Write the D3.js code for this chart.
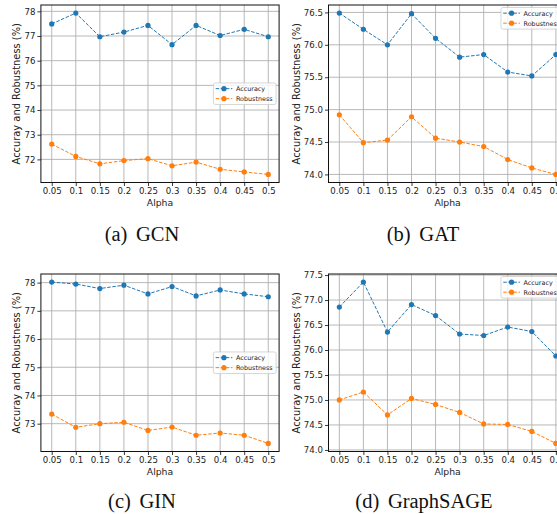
<!DOCTYPE html>
<html>
<head>
<meta charset="utf-8">
<script src="https://cdn.jsdelivr.net/npm/d3@7"></script>
<style>
  html, body { margin: 0; padding: 0; background: #fff; }
  svg { display: block; }
  .tick text { font-family: 'DejaVu Sans', sans-serif; font-size: 8.6px; fill: #222; }
  .tick line { stroke: #222; stroke-width: 0.9; }
</style>
</head>
<body>
<div id="chart"></div>
<script>
// data
const alphas = [0.05, 0.1, 0.15, 0.2, 0.25, 0.3, 0.35, 0.4, 0.45, 0.5];
const alphaLabels = ['0.05', '0.1', '0.15', '0.2', '0.25', '0.3', '0.35', '0.4', '0.45', '0.5'];

const gcnAcc  = [77.49, 77.93, 76.97, 77.16, 77.43, 76.65, 77.43, 77.02, 77.27, 76.97];
const gcnRob  = [72.62, 72.12, 71.82, 71.95, 72.03, 71.74, 71.89, 71.60, 71.49, 71.39];
const gatAcc  = [76.49, 76.24, 76.00, 76.48, 76.10, 75.81, 75.85, 75.58, 75.52, 75.85];
const gatRob  = [74.92, 74.49, 74.53, 74.89, 74.56, 74.50, 74.43, 74.23, 74.10, 74.00];
const ginAcc  = [78.02, 77.95, 77.79, 77.91, 77.60, 77.86, 77.53, 77.74, 77.60, 77.50];
const ginRob  = [73.34, 72.87, 73.00, 73.05, 72.76, 72.88, 72.59, 72.67, 72.59, 72.30];
const sageAcc = [76.86, 77.36, 76.36, 76.91, 76.69, 76.32, 76.29, 76.46, 76.37, 75.88];
const sageRob = [75.00, 75.16, 74.70, 75.03, 74.91, 74.75, 74.52, 74.51, 74.37, 74.13];

const gcnTicks  = [72, 73, 74, 75, 76, 77, 78];
const gatTicks  = [74.0, 74.5, 75.0, 75.5, 76.0, 76.5];
const ginTicks  = [73, 74, 75, 76, 77, 78];
const sageTicks = [74.0, 74.5, 75.0, 75.5, 76.0, 76.5, 77.0, 77.5];

const seriesNames = ['Accuracy', 'Robustness'];
const captionTags = ['(a)', '(b)', '(c)', '(d)'];
const modelNames  = ['GCN', 'GAT', 'GIN', 'GraphSAGE'];

// layout
const W = 557, H = 514;
const colors = ['#1f77b4', '#ff7f0e'];
const AW = 238.2, AH = 177.5;
const panels = [
  { x: 40.9,  y: 5,     acc: gcnAcc,  rob: gcnRob,  ticks: gcnTicks,  fmt: d3.format('d'),   legend: 'center', cap: [142, 241] },
  { x: 328.5, y: 5,     acc: gatAcc,  rob: gatRob,  ticks: gatTicks,  fmt: d3.format('.1f'), legend: 'upper',  cap: [423, 241] },
  { x: 40.9,  y: 274.0, acc: ginAcc,  rob: ginRob,  ticks: ginTicks,  fmt: d3.format('d'),   legend: 'center', cap: [142, 508] },
  { x: 328.5, y: 274.0, acc: sageAcc, rob: sageRob, ticks: sageTicks, fmt: d3.format('.1f'), legend: 'upper',  cap: [424, 508] },
];

const svg = d3.select('#chart').append('svg').attr('width', W).attr('height', H);

// matplotlib-style 5% margins
const padDomain = (lo, hi) => { const p = (hi - lo) * 0.05; return [lo - p, hi + p]; };

panels.forEach((p, i) => {
  const g = svg.append('g').attr('transform', `translate(${p.x},${p.y})`);
  const x = d3.scaleLinear().domain(padDomain(d3.min(alphas), d3.max(alphas))).range([0, AW]);
  const all = p.acc.concat(p.rob);
  const y = d3.scaleLinear().domain(padDomain(d3.min(all), d3.max(all))).range([AH, 0]);

  // grid
  const grid = g.append('g').attr('stroke', '#b0b0b0').attr('stroke-width', 0.9);
  grid.selectAll('.gx').data(alphas).join('line')
    .attr('x1', d => x(d)).attr('x2', d => x(d)).attr('y1', 0).attr('y2', AH);
  grid.selectAll('.gy').data(p.ticks).join('line')
    .attr('x1', 0).attr('x2', AW).attr('y1', d => y(d)).attr('y2', d => y(d));

  // axes
  const xa = g.append('g').attr('transform', `translate(0,${AH})`)
    .call(d3.axisBottom(x).tickValues(alphas).tickFormat((d, k) => alphaLabels[k]).tickSize(3.5).tickPadding(2.2));
  xa.select('.domain').remove();
  const ya = g.append('g')
    .call(d3.axisLeft(y).tickValues(p.ticks).tickFormat(p.fmt).tickSize(3.5).tickPadding(2));
  ya.select('.domain').remove();

  g.append('rect').attr('width', AW).attr('height', AH)
    .attr('fill', 'none').attr('stroke', '#111').attr('stroke-width', 1);

  // series
  const line = d3.line().x((d, k) => x(alphas[k])).y(d => y(d));
  [p.acc, p.rob].forEach((vals, s) => {
    g.append('path').datum(vals).attr('d', line)
      .attr('fill', 'none').attr('stroke', colors[s]).attr('stroke-width', 1)
      .attr('stroke-dasharray', '3.5,1.6');
    g.selectAll(null).data(vals).join('circle')
      .attr('cx', (d, k) => x(alphas[k])).attr('cy', d => y(d)).attr('r', 2.6)
      .attr('fill', colors[s]);
  });

  // axis labels
  g.append('text').attr('x', AW / 2).attr('y', AH + 23.5).attr('text-anchor', 'middle')
    .style('font-family', 'DejaVu Sans, sans-serif').style('font-size', '9.3px').style('fill', '#222')
    .text('Alpha');
  const yb = ya.node().getBBox();
  g.append('text')
    .attr('transform', `translate(${yb.x - 4},${AH / 2}) rotate(-90)`)
    .attr('text-anchor', 'middle')
    .style('font-family', 'DejaVu Sans, sans-serif').style('font-size', '9.9px').style('fill', '#222')
    .text('Accuray and Robustness (%)');

  // legend
  const lg = g.append('g');
  const box = lg.append('rect').attr('rx', 2).attr('fill', '#fff').attr('fill-opacity', 0.8)
    .attr('stroke', '#cccccc').attr('stroke-width', 0.8);
  let tw = 0;
  seriesNames.forEach((name, s) => {
    const cy = 5.7 + s * 10;
    lg.append('line').attr('x1', 2.3).attr('x2', 19).attr('y1', cy).attr('y2', cy)
      .attr('stroke', colors[s]).attr('stroke-width', 1).attr('stroke-dasharray', '3.5,1.6');
    lg.append('circle').attr('cx', 10.6).attr('cy', cy).attr('r', 2.6).attr('fill', colors[s]);
    const t = lg.append('text').attr('x', 22.6).attr('y', cy + 2.3)
      .style('font-family', 'DejaVu Sans, sans-serif').style('font-size', '6.4px').style('fill', '#222')
      .text(name);
    tw = Math.max(tw, t.node().getComputedTextLength());
  });
  const bw = 22.6 + tw + 3.5, bh = 21.6;
  box.attr('width', bw).attr('height', bh);
  const lx = AW - 3 - bw;
  const ly = p.legend === 'center' ? AH / 2 - bh / 2 : 2.5;
  lg.attr('transform', `translate(${lx},${ly})`);

  // caption
  const cap = svg.append('text').attr('x', p.cap[0]).attr('y', p.cap[1]).attr('text-anchor', 'middle')
    .style('font-family', 'Liberation Serif, Times New Roman, serif').style('font-size', '20.5px').style('fill', '#111');
  cap.append('tspan').text(captionTags[i]);
  cap.append('tspan').attr('dx', '0.42em').text(modelNames[i]);
});
</script>
</body>
</html>
